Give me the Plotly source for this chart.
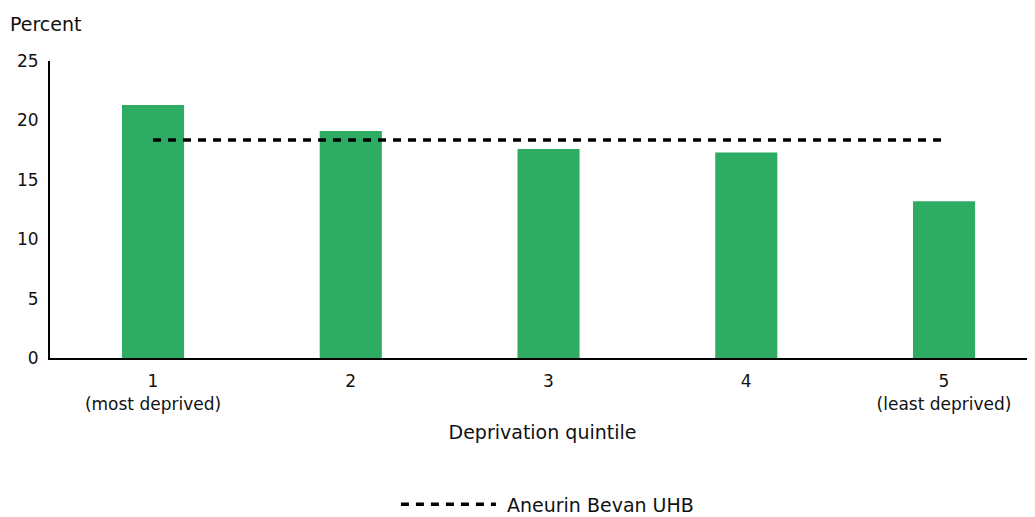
import plotly.graph_objects as go

categories = ["1<br>(most deprived)", "2", "3", "4", "5<br>(least deprived)"]
percent = [21.3, 19.1, 17.6, 17.3, 13.2]
uhb_name = "\u00a0Aneurin Bevan UHB"
uhb_value = [18.35] * len(categories)
y_ticks = [0, 5, 10, 15, 20, 25]

FONT = "DejaVu Sans"
fig = go.Figure()
fig.add_trace(go.Bar(
    x=categories, y=percent, width=0.314,
    marker=dict(color="#2EAC63", line=dict(width=0)),
    showlegend=False,
))
fig.add_trace(go.Scatter(
    x=categories, y=uhb_value, mode="lines", name=uhb_name,
    line=dict(color="black", width=3.5, dash="8px,7px"),
))

fig.update_layout(
    width=1027, height=509,
    margin=dict(l=42, r=0, t=53, b=159),
    plot_bgcolor="white", paper_bgcolor="white",
    font=dict(family=FONT, size=17, color="#111111"),
    showlegend=True,
    legend=dict(orientation="h", x=0.505, xanchor="center",
                yref="container", y=0.025, yanchor="middle",
                font=dict(size=19), itemwidth=95),
    xaxis=dict(
        type="category", range=[-0.521, 4.46],
        showline=True, linecolor="black", linewidth=2,
        ticks="", showgrid=False, zeroline=False,
        ticklabelstandoff=7,
        title=dict(text="Deprivation quintile", font=dict(size=19), standoff=13),
    ),
    yaxis=dict(
        range=[0, 25], tickvals=y_ticks,
        showline=True, linecolor="black", linewidth=2,
        ticks="", showgrid=False, zeroline=False,
        ticklabelstandoff=6,
    ),
    annotations=[dict(text="Percent", xref="paper", yref="paper", x=-0.0426, y=1.0,
                      xanchor="left", yanchor="bottom", yshift=24, showarrow=False,
                      font=dict(size=19))],
)
fig.write_html("out.html")
